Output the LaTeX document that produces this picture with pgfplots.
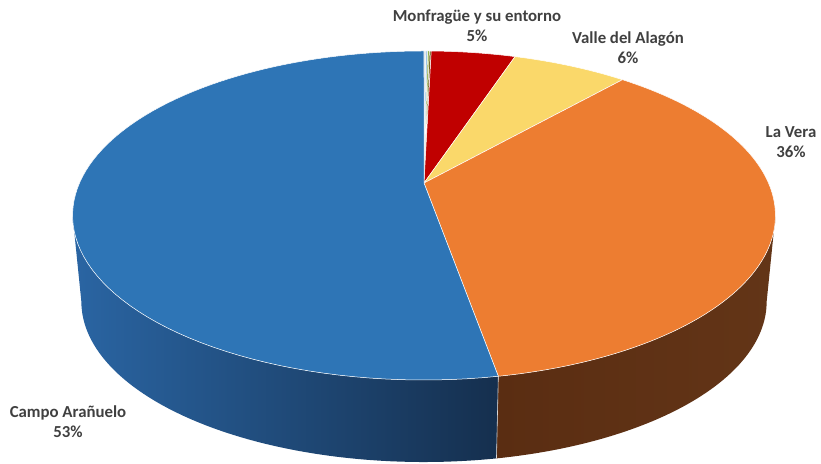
\documentclass[border=0pt]{standalone}
\usepackage{pgfplots}
\pgfplotsset{compat=1.18}
\usepackage{pgfplotstable}
\usepackage{fontspec}
\setmainfont{Carlito}

\definecolor{cBlue}{HTML}{2E75B6}
\definecolor{cOrange}{HTML}{ED7D31}
\definecolor{cYellow}{HTML}{FAD86A}
\definecolor{cRed}{HTML}{C00000}
\definecolor{cGrey}{HTML}{D0D8E0}
\definecolor{cLBlue}{HTML}{9DC3E6}
\definecolor{cGreen}{HTML}{8DB04A}
\definecolor{cOlive}{HTML}{6B5A10}
\definecolor{sBlueL}{HTML}{2A65A3}
\definecolor{sBlueR}{HTML}{152F4E}
\definecolor{sOrL}{HTML}{5A2D12}
\definecolor{sOrR}{HTML}{633517}
\definecolor{lab}{HTML}{404040}

% shares of the pie (percent), clockwise from 12 o'clock
\pgfplotstableread{
id value
0 0.10
1 0.10
2 0.10
3 0.10
4 4.68
5 6.42
6 35.72
7 52.78
}\piedata

\pgfplotstablegetelem{0}{value}\of\piedata \pgfmathsetmacro\aA{3.6*\pgfplotsretval}
\pgfplotstablegetelem{1}{value}\of\piedata \pgfmathsetmacro\aB{\aA+3.6*\pgfplotsretval}
\pgfplotstablegetelem{2}{value}\of\piedata \pgfmathsetmacro\aC{\aB+3.6*\pgfplotsretval}
\pgfplotstablegetelem{3}{value}\of\piedata \pgfmathsetmacro\aD{\aC+3.6*\pgfplotsretval}
\pgfplotstablegetelem{4}{value}\of\piedata \pgfmathsetmacro\aE{\aD+3.6*\pgfplotsretval}
\pgfplotstablegetelem{5}{value}\of\piedata \pgfmathsetmacro\aF{\aE+3.6*\pgfplotsretval}
\pgfplotstablegetelem{6}{value}\of\piedata \pgfmathsetmacro\aG{\aF+3.6*\pgfplotsretval}
\pgfplotstablegetelem{7}{value}\of\piedata \pgfmathsetmacro\aH{\aG+3.6*\pgfplotsretval}

\newcommand\slice[3]{%
  \addplot[fill=#3, draw=white, line width=0.5pt, domain=#1:#2, samples=90]
    ({px(x)},{py(x)}) -- (424,183) -- cycle;}
\newcommand\side[4]{%
  \addplot[left color=#3, right color=#4, draw=none, domain=0:121, samples=122]
    ({sidex(x,#1,#2)},{sidey(x,#1,#2)}) -- cycle;}

\begin{document}
\begin{tikzpicture}
\begin{axis}[
  width=821pt, height=463pt, scale only axis,
  xmin=0, xmax=821, ymin=0, ymax=463, y dir=reverse,
  hide axis, clip=false,
  declare function={
    px(\t)=424+344.5*sin(\t)/(1+0.1975*cos(\t));
    py(\t)=183-158.1*cos(\t)/(1+0.1975*cos(\t));
    qx(\t)=424+335.9*sin(\t)/(1+0.1975*cos(\t));
    qy(\t)=270-154.1*cos(\t)/(1+0.1975*cos(\t));
    sidex(\s,\a,\b)=(\s<60.5)*px(\a+(\b-\a)*min(\s,60)/60)+(\s>60.5)*qx(\b-(\b-\a)*(max(\s,61)-61)/60);
    sidey(\s,\a,\b)=(\s<60.5)*py(\a+(\b-\a)*min(\s,60)/60)+(\s>60.5)*qy(\b-(\b-\a)*(max(\s,61)-61)/60);
  },
]
\path (0,0) rectangle (821,463);
% sides
\side{101.4}{\aG}{sOrL}{sOrR}
\side{\aG}{258.6}{sBlueL}{sBlueR}
\addplot[white!85!black, line width=0.6pt, domain=0:1, samples=2]
  ({px(\aG)*(1-x)+qx(\aG)*x},{py(\aG)*(1-x)+qy(\aG)*x});
% top faces
\slice{0}{\aA}{cGrey}
\slice{\aA}{\aB}{cLBlue}
\slice{\aB}{\aC}{cGreen}
\slice{\aC}{\aD}{cOlive}
\slice{\aD}{\aE}{cRed}
\slice{\aE}{\aF}{cYellow}
\slice{\aF}{\aG}{cOrange}
\slice{\aG}{\aH}{cBlue}
% labels
\begin{scope}[every node/.style={align=center, text=lab, inner sep=0pt, font=\bfseries\fontsize{16.8}{20}\selectfont}]
\node at (477,26) {Monfragüe y su entorno\\5\%};
\node at (628,48) {Valle del Alagón\\6\%};
\node at (791,142) {La Vera\\36\%};
\node at (68,422) {Campo Arañuelo\\53\%};
\end{scope}
\end{axis}
\end{tikzpicture}
\end{document}
